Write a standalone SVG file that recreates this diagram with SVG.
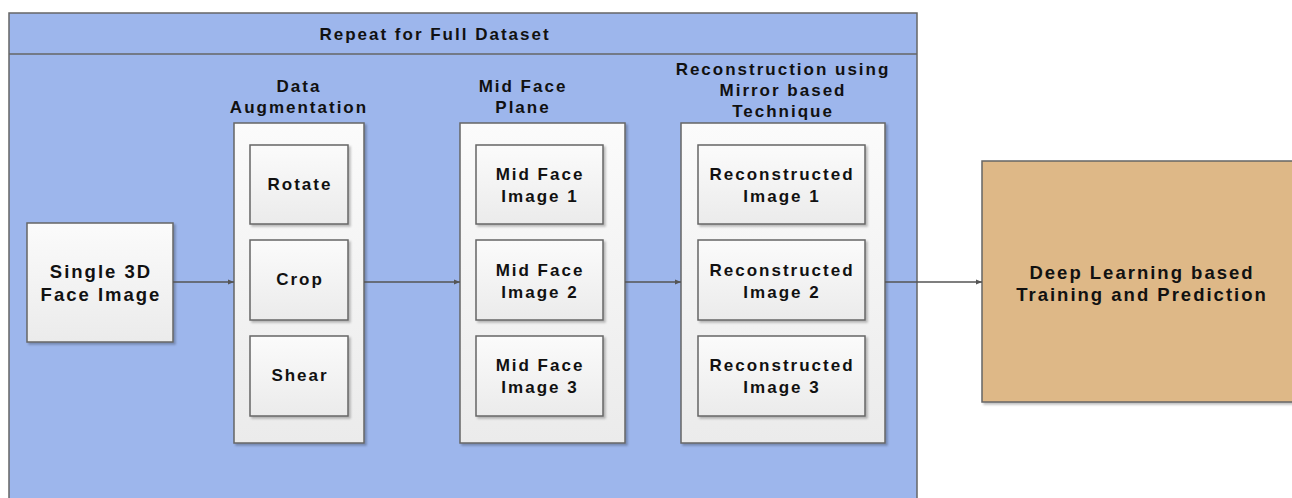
<svg xmlns="http://www.w3.org/2000/svg" width="1292" height="498" viewBox="0 0 1292 498">
<defs>
<linearGradient id="g" x1="0" y1="0" x2="0" y2="1">
<stop offset="0" stop-color="#fbfbfb"/>
<stop offset="1" stop-color="#ebebeb"/>
</linearGradient>
<filter id="sh" x="-10%" y="-10%" width="130%" height="130%">
<feDropShadow dx="2" dy="2" stdDeviation="1.2" flood-color="#000" flood-opacity="0.25"/>
</filter>
<marker id="ah" viewBox="0 0 10 10" refX="10" refY="5" markerWidth="6" markerHeight="6" orient="auto" markerUnits="userSpaceOnUse">
<path d="M0,1 L10,5 L0,9 z" fill="#555"/>
</marker>
<style>
text{font-family:"Liberation Sans",Arial,sans-serif;font-weight:bold;font-size:17px;fill:#111;text-anchor:middle;letter-spacing:2px}
.big{font-size:18.5px}
.box{fill:url(#g);stroke:#666;stroke-width:1.5;filter:url(#sh)}
.conn{stroke:#555;stroke-width:1.3;fill:none;marker-end:url(#ah)}
</style>
</defs>
<rect width="1292" height="498" fill="#fff"/>
<g id="container">
<rect x="9" y="13" width="908" height="495" fill="#9db6ec" stroke="#666" stroke-width="1.5"/>
<line x1="9" y1="54" x2="917" y2="54" stroke="#666" stroke-width="1.5"/>
<text x="435" y="40">Repeat for Full Dataset</text>
</g>
<g id="single">
<rect class="box" x="27" y="223" width="146" height="119"/>
<text class="big" x="101" y="278">Single 3D</text>
<text class="big" x="101" y="301">Face Image</text>
</g>
<g id="augmentation">
<text x="299" y="92">Data</text>
<text x="299" y="113">Augmentation</text>
<rect class="box" x="234" y="123" width="130" height="320"/>
<g id="rotate"><rect class="box" x="250" y="145" width="98" height="79"/><text x="300" y="190">Rotate</text></g>
<g id="crop"><rect class="box" x="250" y="240" width="98" height="80"/><text x="300" y="285">Crop</text></g>
<g id="shear"><rect class="box" x="250" y="336" width="98" height="80"/><text x="300" y="381">Shear</text></g>
</g>
<g id="midface">
<text x="523" y="92">Mid Face</text>
<text x="523" y="113">Plane</text>
<rect class="box" x="460" y="123" width="165" height="320"/>
<g id="mf1"><rect class="box" x="476" y="145" width="127" height="79"/><text x="540" y="180">Mid Face</text><text x="540" y="202">Image 1</text></g>
<g id="mf2"><rect class="box" x="476" y="240" width="127" height="80"/><text x="540" y="276">Mid Face</text><text x="540" y="298">Image 2</text></g>
<g id="mf3"><rect class="box" x="476" y="336" width="127" height="80"/><text x="540" y="371">Mid Face</text><text x="540" y="393">Image 3</text></g>
</g>
<g id="reconstruction">
<text x="783" y="75">Reconstruction using</text>
<text x="783" y="96">Mirror based</text>
<text x="783" y="117">Technique</text>
<rect class="box" x="681" y="123" width="204" height="320"/>
<g id="rc1"><rect class="box" x="698" y="145" width="167" height="79"/><text x="782" y="180">Reconstructed</text><text x="782" y="202">Image 1</text></g>
<g id="rc2"><rect class="box" x="698" y="240" width="167" height="80"/><text x="782" y="276">Reconstructed</text><text x="782" y="298">Image 2</text></g>
<g id="rc3"><rect class="box" x="698" y="336" width="167" height="80"/><text x="782" y="371">Reconstructed</text><text x="782" y="393">Image 3</text></g>
</g>
<g id="deeplearning">
<rect x="982" y="161" width="320" height="241" fill="#deb887" stroke="#666" stroke-width="1.5" filter="url(#sh)"/>
<text class="big" x="1142" y="279">Deep Learning based</text>
<text class="big" x="1142" y="301">Training and Prediction</text>
</g>
<g id="connectors">
<line class="conn" x1="173" y1="282" x2="234" y2="282"/>
<line class="conn" x1="364" y1="282" x2="460" y2="282"/>
<line class="conn" x1="625" y1="282" x2="681" y2="282"/>
<line class="conn" x1="885" y1="282" x2="982" y2="282"/>
</g>
</svg>
